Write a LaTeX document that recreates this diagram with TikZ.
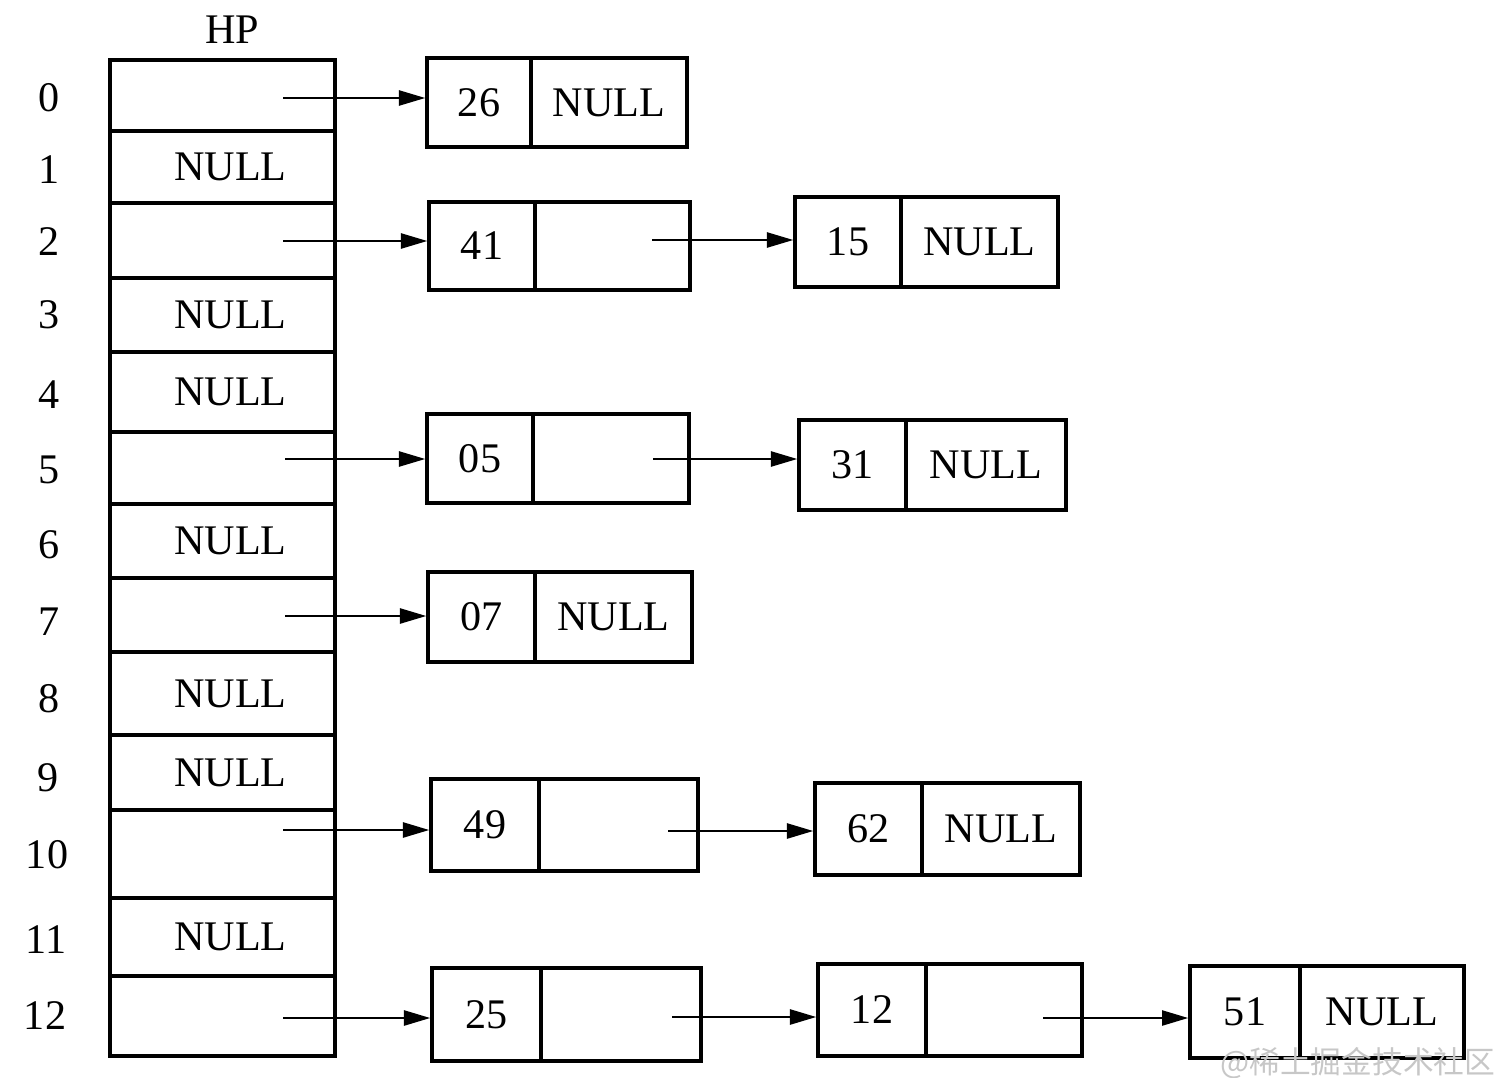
\documentclass[tikz,border=0pt]{standalone}
\usepackage{fontspec}
\setmainfont{Liberation Serif}
\newfontfamily\cjk{Noto Sans CJK SC}
\usetikzlibrary{arrows.meta}
\newcommand\tnull{\hspace*{0.32cm}NULL}
\begin{document}
\begin{tikzpicture}[x=0.02cm,y=-0.02cm,
  every node/.style={font=\fontsize{24}{28}\selectfont},
  cell/.style={draw, line width=1.9pt, inner sep=0pt, rectangle},
  arr/.style={line width=1.5pt, -{Triangle[length=15pt,width=8.5pt]}},
  idx/.style={inner sep=0pt}]
\path[use as bounding box, fill=white] (0,0) rectangle (1508,1078);

\node[idx] (hp) at (232,30) {HP};
% table cells
\node[cell, minimum width=4.5cm, minimum height=1.42cm] (t0) at (222.5,95.5) {};
\node[cell, minimum width=4.5cm, minimum height=1.44cm] (t1) at (222.5,167) {\tnull};
\node[cell, minimum width=4.5cm, minimum height=1.50cm] (t2) at (222.5,240.5) {};
\node[cell, minimum width=4.5cm, minimum height=1.48cm] (t3) at (222.5,315) {\tnull};
\node[cell, minimum width=4.5cm, minimum height=1.60cm] (t4) at (222.5,392) {\tnull};
\node[cell, minimum width=4.5cm, minimum height=1.44cm] (t5) at (222.5,468) {};
\node[cell, minimum width=4.5cm, minimum height=1.48cm] (t6) at (222.5,541) {\tnull};
\node[cell, minimum width=4.5cm, minimum height=1.48cm] (t7) at (222.5,615) {};
\node[cell, minimum width=4.5cm, minimum height=1.66cm] (t8) at (222.5,693.5) {\tnull};
\node[cell, minimum width=4.5cm, minimum height=1.50cm] (t9) at (222.5,772.5) {\tnull};
\node[cell, minimum width=4.5cm, minimum height=1.76cm] (t10) at (222.5,854) {};
\node[cell, minimum width=4.5cm, minimum height=1.56cm] (t11) at (222.5,937) {\tnull};
\node[cell, minimum width=4.5cm, minimum height=1.60cm] (t12) at (222.5,1016) {};

% index labels
\node[idx] (i0) at (49,98) {0};
\node[idx] (i1) at (49,170) {1};
\node[idx] (i2) at (49,242) {2};
\node[idx] (i3) at (49,315) {3};
\node[idx] (i4) at (49,395) {4};
\node[idx] (i5) at (49,470) {5};
\node[idx] (i6) at (49,545) {6};
\node[idx] (i7) at (49,622) {7};
\node[idx] (i8) at (49,699) {8};
\node[idx] (i9) at (48,778) {9};
\node[idx] (i10) at (47,855) {10};
\node[idx] (i11) at (46,940) {11};
\node[idx] (i12) at (45,1016) {12};

% list nodes
\node[cell, minimum width=2.08cm, minimum height=1.78cm] (a1) at (479,102.5) {26};
\node[cell, minimum width=3.12cm, minimum height=1.78cm] (a2) at (609,102.5) {NULL};

\node[cell, minimum width=2.12cm, minimum height=1.76cm] (b1) at (482,246) {41};
\node[cell, minimum width=3.10cm, minimum height=1.76cm] (b2) at (612.5,246) {};

\node[cell, minimum width=2.12cm, minimum height=1.80cm] (c1) at (848,242) {15};
\node[cell, minimum width=3.14cm, minimum height=1.80cm] (c2) at (979.5,242) {NULL};

\node[cell, minimum width=2.12cm, minimum height=1.78cm] (d1) at (480,458.5) {05};
\node[cell, minimum width=3.12cm, minimum height=1.78cm] (d2) at (611,458.5) {};

\node[cell, minimum width=2.14cm, minimum height=1.80cm] (e1) at (852.5,465) {31};
\node[cell, minimum width=3.20cm, minimum height=1.80cm] (e2) at (986,465) {NULL};

\node[cell, minimum width=2.14cm, minimum height=1.80cm] (f1) at (481.5,617) {07};
\node[cell, minimum width=3.14cm, minimum height=1.80cm] (f2) at (613.5,617) {NULL};

\node[cell, minimum width=2.16cm, minimum height=1.84cm] (g1) at (485,825) {49};
\node[cell, minimum width=3.18cm, minimum height=1.84cm] (g2) at (618.5,825) {};

\node[cell, minimum width=2.14cm, minimum height=1.84cm] (h1) at (868.5,829) {62};
\node[cell, minimum width=3.16cm, minimum height=1.84cm] (h2) at (1001,829) {NULL};

\node[cell, minimum width=2.18cm, minimum height=1.86cm] (k1) at (486.5,1014.5) {25};
\node[cell, minimum width=3.20cm, minimum height=1.86cm] (k2) at (621,1014.5) {};

\node[cell, minimum width=2.16cm, minimum height=1.84cm] (j1) at (872,1010) {12};
\node[cell, minimum width=3.12cm, minimum height=1.84cm] (j2) at (1004,1010) {};

\node[cell, minimum width=2.20cm, minimum height=1.84cm] (m1) at (1245,1012) {51};
\node[cell, minimum width=3.28cm, minimum height=1.84cm] (m2) at (1382,1012) {NULL};

% arrow start points
\coordinate (p0) at (283,98);
\coordinate (p2) at (283,241);
\coordinate (q2) at (652,240);
\coordinate (p5) at (285,459);
\coordinate (q5) at (653,459);
\coordinate (p7) at (285,616);
\coordinate (p10) at (283,830);
\coordinate (q10) at (668,831);
\coordinate (p12) at (283,1018);
\coordinate (q12) at (672,1017);
\coordinate (r12) at (1043,1018);

\draw[arr] (p0) -- (p0 -| a1.west);
\draw[arr] (p2) -- (p2 -| b1.west);
\draw[arr] (q2) -- (q2 -| c1.west);
\draw[arr] (p5) -- (p5 -| d1.west);
\draw[arr] (q5) -- (q5 -| e1.west);
\draw[arr] (p7) -- (p7 -| f1.west);
\draw[arr] (p10) -- (p10 -| g1.west);
\draw[arr] (q10) -- (q10 -| h1.west);
\draw[arr] (p12) -- (p12 -| k1.west);
\draw[arr] (q12) -- (q12 -| j1.west);
\draw[arr] (r12) -- (r12 -| m1.west);

% watermark
\node[anchor=west, inner sep=0pt, text=black!22, font=\cjk\fontsize{17.5}{20}\selectfont] (wm) at (1220,1063) {@稀土掘金技术社区};
\end{tikzpicture}
\end{document}
